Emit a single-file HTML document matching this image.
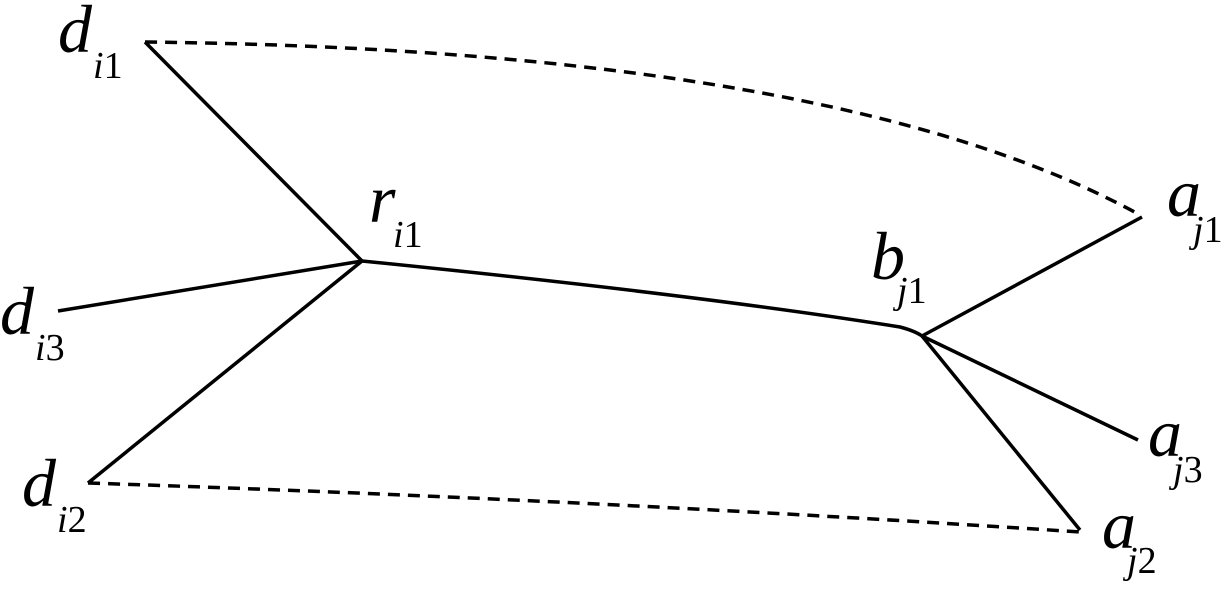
<!DOCTYPE html>
<html><head><style>
html,body{margin:0;padding:0;background:#fff;}
svg{display:block;}
</style></head><body>
<svg width="1232" height="592" viewBox="0 0 1232 592" xmlns="http://www.w3.org/2000/svg">
<g stroke="#000" stroke-width="3.5" fill="none" stroke-linecap="butt">
<path d="M145 42 L362 261"/>
<path d="M58 311 L362 261"/>
<path d="M88 483 L362 261"/>
<path d="M362 261 Q700 295 900 327 Q915 331 922 336"/>
<path d="M922 336 L1142 217"/>
<path d="M922 336 L1138 440"/>
<path d="M922 336 L1080 530"/>
<path d="M145 42 Q840 50 1140 215" stroke-dasharray="12,8"/>
<path d="M88 483 Q600 500 1080 532" stroke-dasharray="12,8"/>
</g>
<g style="font-family:'Liberation Serif','DejaVu Serif','Times New Roman',serif" font-style="italic" fill="#000">
<text font-size="68" x="58" y="52">d</text><text font-size="38" x="93" y="78">i<tspan font-style="normal">1</tspan></text>
<text font-size="68" x="369" y="222">r</text><text font-size="38" x="393" y="247">i<tspan font-style="normal">1</tspan></text>
<text font-size="68" x="0" y="334">d</text><text font-size="38" x="35" y="360">i<tspan font-style="normal">3</tspan></text>
<text font-size="68" x="22" y="506">d</text><text font-size="38" x="57" y="532">i<tspan font-style="normal">2</tspan></text>
<text font-size="68" x="871" y="279">b</text><text font-size="38" x="897" y="303">j<tspan font-style="normal">1</tspan></text>
<text font-size="68" x="1167" y="216">a</text><text font-size="38" x="1193" y="242">j<tspan font-style="normal">1</tspan></text>
<text font-size="68" x="1148" y="456">a</text><text font-size="38" x="1173" y="482">j<tspan font-style="normal">3</tspan></text>
<text font-size="68" x="1102" y="548">a</text><text font-size="38" x="1127" y="573">j<tspan font-style="normal">2</tspan></text>
</g>
</svg>
</body></html>
